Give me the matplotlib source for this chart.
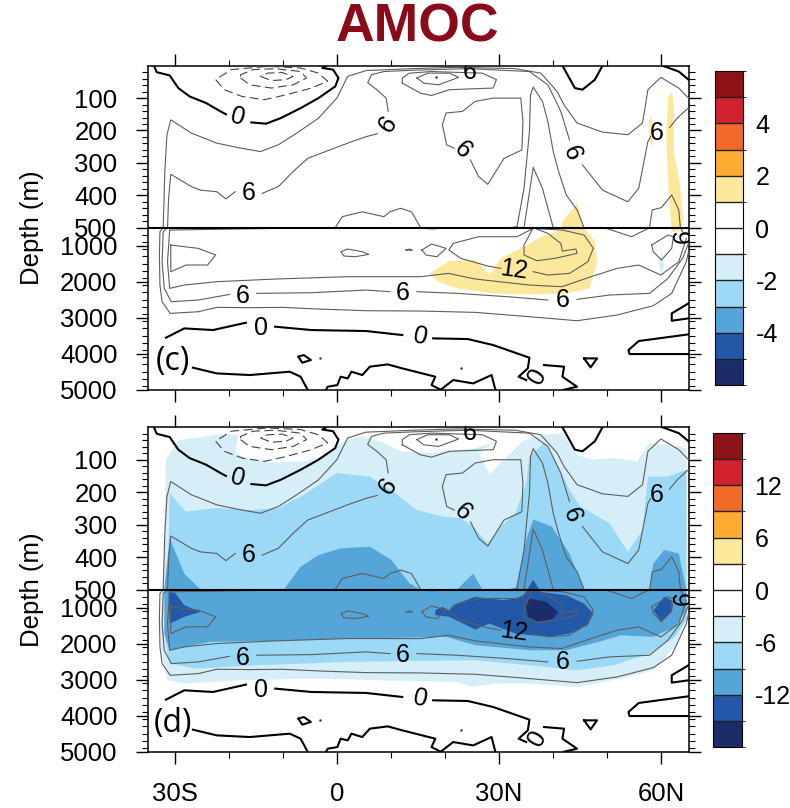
import numpy as np
import matplotlib
matplotlib.use('Agg')
import matplotlib.pyplot as plt
from matplotlib.colors import ListedColormap, BoundaryNorm
from matplotlib.cm import ScalarMappable

plt.rcParams['font.family'] = ['Liberation Sans', 'DejaVu Sans']

# contours, (lat, depth in m)
zero_lines = [
    [(-33.8, 0), (-33.3, 20), (-30.9, 30), (-29.3, 69), (-27.2, 95), (-24.2, 115), (-21.5, 141), (-20.5, 150)],
    [(-15.8, 175), (-13.1, 179), (-10.4, 162), (-6.7, 131), (-3.4, 100), (-0.3, 64), (0.3, 38), (-0.7, 12), (-2.7, 7), (-2, 0)],
    [(41.7, 0), (44, 69), (45.4, 74), (47.7, 43), (49.1, 0)],
    [(60.2, 0), (63.2, 18), (65, 43)],
    [(-31.6, 3556), (-28.2, 3297), (-22.9, 3343), (-16.8, 3139)],
    [(-11.4, 3250), (-4.7, 3343), (5.4, 3370), (12.1, 3482)],
    [(17.8, 3574), (24.2, 3593), (28.9, 3760), (35.6, 4111), (35.3, 4408), (33.6, 4639), (35, 4732)],
    [(38.3, 4315), (42, 4361), (41.7, 4639), (44.4, 4917), (42, 5000)],
    [(-26.6, 4389), (-22.2, 4547), (-16.1, 4593), (-8.7, 4500), (-6.7, 4639), (-5.4, 5000)],
    [(-2, 5000), (-1.7, 4917), (0.1, 4871), (0.7, 4639), (2, 4686), (2.7, 4500), (4.7, 4593), (6.1, 4361),
     (9.4, 4297), (12.1, 4408), (18.2, 4639), (17.5, 4871), (19.2, 5000)],
    [(19.2, 5000), (21.5, 4732), (25.2, 4825), (28.6, 4593), (29.3, 5000)],
    [(-7.1, 4084), (-6.1, 4037), (-4.8, 4176), (-6.4, 4250), (-7.1, 4084)],
    [(45.7, 4130), (48.1, 4130), (46.9, 4380), (45.7, 4130)],
    [(65, 2602), (61.9, 2880), (61.9, 3084), (65, 3019)],
    [(65, 3463), (55.8, 3648), (53.9, 3899), (54.1, 4010), (65, 4010)],
]
dashed_lines = [
    [(-22.4, 43), (-20.8, 74), (-17.5, 95), (-13.4, 105), (-9.4, 90), (-4.7, 69), (-1.7, 48), (-3.4, 23),
     (-6.7, 7), (-12.8, 2), (-19.5, 12), (-22.4, 43)],
    [(-17.8, 38), (-16.1, 59), (-12.1, 69), (-8.1, 59), (-5.6, 38), (-6.7, 18), (-11.4, 9), (-15.5, 12),
     (-17.8, 28), (-17.8, 38)],
    [(-14.1, 33), (-12.1, 46), (-9.4, 43), (-8.1, 33), (-10.1, 21), (-12.8, 23), (-14.1, 33)],
]
thin_lines = [
    # 3
    [(65, 100), (63.2, 69), (59.9, 36), (57.5, 74), (56.5, 177), (53.8, 213), (49.1, 205), (44.4, 177), (42, 121),
     (40.7, 79), (37.7, 23), (33, 9), (22.2, 5), (14.1, 9), (5.4, 15), (2, 33), (0, 100), (-3.4, 162), (-7.4, 208),
     (-10.8, 244), (-14.1, 265), (-18.2, 253), (-22.2, 239), (-26.9, 208), (-30.7, 167), (-31.4, 213), (-31.8, 327),
     (-32.1, 500), (-32.7, 611), (-32.8, 1259), (-32.7, 2093), (-32.3, 2556), (-30.8, 2880), (-25.6, 2834),
     (-22.2, 2713), (-16.1, 2722), (-10.1, 2713), (-3.4, 2759), (5.4, 2806), (15.5, 2815), (25.6, 2852), (35.6, 2972),
     (44.4, 3084), (51.8, 2926), (58.5, 2667), (61.9, 2324), (64.6, 1445), (65, 1167)],
    # 6
    [(7.5, 210), (5.4, 219), (2, 239), (-1.3, 260), (-5.4, 286), (-8.1, 327), (-10.8, 373), (-13.8, 394)],
    [(-18.8, 389), (-20.5, 411), (-22.2, 389), (-25.2, 384), (-26.9, 373), (-30.7, 335), (-31.1, 409), (-31.3, 500),
     (-32.1, 611), (-32.3, 1445), (-31.9, 2185), (-30.6, 2556), (-25.6, 2509), (-22.2, 2417), (-19.8, 2352)],
    [(-14.8, 2324), (-4.7, 2306), (5.4, 2232), (9.8, 2278)],
    [(14.8, 2278), (22.2, 2324), (31.6, 2417), (39, 2509)],
    [(44.4, 2491), (50.4, 2370), (57.8, 2324), (61.2, 1908), (63.9, 1352), (65, 935)],
    [(9.5, 141), (9.1, 100), (7.4, 74), (5.7, 53), (6.4, 28), (8.7, 18), (14.1, 14), (24.2, 9), (35.6, 18), (39, 59),
     (41.4, 141), (43, 229)],
    [(45.4, 306), (49.1, 384), (53.8, 420), (55.8, 378), (57.5, 234), (58, 219)],
    [(61.5, 191), (62.9, 162), (64.6, 136), (65, 131)],
    [(24.7, 291), (26.2, 342), (27.9, 366), (30.9, 286), (34.2, 260), (34.4, 172), (34, 100), (28.9, 100), (25.6, 110),
     (23.2, 141), (20.2, 146), (19.5, 182), (20.3, 244), (21.7, 255)],
    # 9
    [(33.3, 497), (34.6, 378), (35.6, 203), (35.8, 90), (36.3, 66), (38, 110), (39, 172), (40, 265), (41, 327),
     (42.4, 399), (44.4, 445), (45.7, 500), (49.8, 519), (54.5, 750), (57.8, 500), (58.3, 445), (60, 438), (61.9, 399),
     (63.2, 445), (63.5, 500), (63.9, 611)],
    [(-30.9, 565), (-31.3, 1445), (-30.9, 2185), (-28.2, 2093), (-22.2, 2000), (-11.4, 1926), (2, 1861), (15.5, 1861),
     (20.6, 1769), (25.6, 1926), (35.6, 2093), (41.6, 2139), (47, 1861), (51.8, 1630), (55.8, 1537), (59.9, 1815),
     (63.2, 1445), (64.6, 796)],
    [(-30.9, 565), (-11.4, 519), (-0.3, 500), (1, 466), (4.7, 451), (8.7, 466), (9.8, 451), (11.8, 440), (13.8, 451),
     (15.5, 500), (17.5, 537), (20.8, 500), (31.9, 500), (33.3, 497)],
    [(34.6, 500), (36.3, 314), (38, 378), (40, 500)],
    # 12
    [(36.3, 1722), (39, 1815), (43, 1769), (46.4, 1445), (47.4, 1074), (45.7, 704), (41.7, 565), (36.3, 519),
     (33.3, 750), (26.2, 750), (21.5, 935), (20.7, 1120), (22.9, 1352), (27.9, 1565), (30.3, 1630)],
    # 15
    [(36.3, 500), (34.6, 982), (34.6, 1259), (37, 1417), (40.3, 1352), (44.4, 1213), (44.2, 1093), (41.7, 1148),
     (41.4, 935), (39, 657), (36.3, 500)],
    # small closed ones
    [(-30.7, 982), (-25.6, 1074), (-22.4, 1259), (-23.9, 1537), (-27.9, 1537), (-30.7, 1722), (-30.7, 982)],
    [(0.8, 1167), (2, 1093), (4.7, 1167), (5.9, 1241), (3.4, 1306), (1.3, 1287), (0.8, 1167)],
    [(12.8, 1120), (13.5, 1093), (14, 1130), (12.8, 1120)],
    [(15.7, 1120), (17.5, 954), (20.2, 1074), (18.5, 1306), (16.5, 1259), (15.7, 1120)],
    [(58.2, 982), (61.2, 704), (62.2, 750), (61.9, 1074), (60, 1398), (58.5, 1167), (58.2, 982)],
    [(12.1, 54), (15.5, 85), (17.5, 92), (20.8, 74), (28.9, 69), (29.5, 43), (26.9, 23), (17.5, 18), (13.4, 23),
     (12.1, 38), (12.1, 54)],
    [(14.8, 38), (16.1, 54), (18.8, 59), (22.5, 36), (20.8, 23), (16.8, 23), (14.8, 38)],
]
dots_lat = [-3.2, 22.9, 18.3]
dots_depth = [4130, 4389, 36]

label_text = ['0', '6', '6', '6', '6', '6', '6', '6', '12', '6', '6', '6', '0', '0', '0']
label_lat = [-18.4, 9.4, -16.3, 23.2, 43.4, 59.2, 24.5, 64.2, 32.8, -17.4, 12.1, 41.7, -14.1, 15.5, 37]
label_depth = [157, 182, 394, 260, 270, 208, 18, 730, 1676, 2389, 2324, 2509, 3278, 3528, 4639]
label_rot = [-15, 55, 0, -45, -70, 0, 0, 90, -8, 0, 0, 0, 0, -12, 60]

# shading of (c)
c_yellow = [
    [(17.1, 1769), (20.8, 1426), (25.6, 1398), (28.2, 1796), (30.3, 1352), (34.6, 1028), (37.7, 750), (41.4, 565),
     (41.7, 481), (44.4, 425), (45.7, 500), (47.7, 889), (48.1, 1445), (46.7, 2185), (42.4, 2324), (35.6, 2352),
     (28.9, 2324), (22.2, 2185), (18.8, 2000)],
    [(61.2, 100), (61.9, 79), (62.3, 121), (62.3, 265), (63.5, 378), (64, 481), (63.2, 611), (61.9, 611), (61.3, 378),
     (60.9, 224)],
    [(57.7, 172), (58, 152), (58.6, 193), (58.2, 253), (57.8, 224)],
]
c_lightblue = [[(59.5, 1445), (60, 1167), (60.5, 1537), (60, 1815)]]

# shading of (d)
d_level1 = [[(-32.1, 519), (-31.6, 100), (-29.3, 40), (-22.2, 23), (-18.2, 23), (-18.8, 79), (-16.1, 100), (-11.4, 108),
             (-6.1, 105), (-2, 85), (1.3, 43), (4.7, 28), (8.7, 48), (11.8, 74), (16.8, 79), (25.6, 64), (28.9, 48),
             (26.2, 79), (27.2, 110), (28.2, 146), (29.6, 121), (30.9, 100), (34.3, 43), (37.7, 23), (41.7, 18),
             (44.4, 85), (47.1, 100), (51.1, 95), (55.5, 105), (57.8, 48), (61.2, 54), (64.6, 64), (65, 1167),
             (62.5, 2093), (58.5, 2741), (52.5, 2972), (44.4, 3204), (35.6, 3111), (28.9, 3111), (25.2, 3204),
             (22.2, 3065), (8.7, 3019), (-4.7, 2972), (-18.2, 3019), (-28.2, 3111), (-31.3, 3019), (-32.4, 2278),
             (-32.6, 1352), (-32.3, 519)]]
d_level2 = [[(-31.3, 519), (-30.9, 203), (-27.9, 260), (-22.2, 249), (-16.1, 255), (-10.8, 249), (-6.1, 208), (0, 141),
             (6.1, 152), (10.8, 203), (14.8, 255), (19.5, 275), (22.9, 280), (25.2, 306), (27.9, 358), (30.3, 306),
             (33, 265), (35, 172), (35.6, 90), (38.3, 48), (40.3, 100), (43, 193), (45, 244), (50.4, 296), (53.8, 384),
             (56.5, 317), (57.5, 152), (61.2, 152), (64.6, 131), (64.6, 1352), (62.5, 1815), (57.8, 2278), (51.1, 2602),
             (44.4, 2741), (35.6, 2602), (25.6, 2463), (14.1, 2482), (2, 2509), (-14.8, 2602), (-26.2, 2695),
             (-30.9, 2556), (-31.9, 1722), (-31.6, 611)]]
d_level3 = [[(-31.9, 500), (-30.9, 342), (-28.2, 451), (-25.2, 500), (-9.8, 500), (-6.7, 430), (-3.4, 394), (0.7, 373),
             (6.1, 368), (10.1, 409), (13.4, 481), (15.5, 500), (22.2, 500), (25.2, 451), (26.9, 500), (33, 500),
             (35, 347), (36.3, 284), (39.7, 306), (43, 389), (45.7, 500), (57.8, 500), (58.5, 420), (60.5, 378),
             (63.2, 389), (64.6, 500), (64.6, 1074), (62.5, 1537), (58.5, 1815), (52.5, 1769), (48.4, 1954),
             (42.4, 2185), (35.6, 2185), (25.6, 2046), (20.2, 1815), (2, 1861), (-11.4, 1926), (-23.5, 1954),
             (-30.9, 2185), (-31.9, 1722)]]
d_level4 = [
    [(-31.1, 565), (-29.9, 593), (-28.2, 935), (-25.2, 1120), (-28.2, 1259), (-30.9, 1445)],
    [(18.2, 1074), (19.5, 982), (20.8, 1074), (22.2, 889), (25.6, 704), (30.9, 796), (34.3, 704), (36.3, 470),
     (37.7, 565), (42.4, 657), (45.7, 889), (47.4, 1167), (46.4, 1491), (43, 1722), (39, 1815), (33, 1722), (28.2, 1445),
     (25.6, 1611), (20.8, 1259), (18.2, 1213)],
    [(58.5, 1074), (60.5, 704), (61.9, 796), (61.9, 1120), (60, 1398)],
]
d_level5 = [[(35, 982), (35.6, 750), (38.7, 843), (40.9, 1120), (40, 1306), (37.3, 1398), (35.3, 1259)]]

bar_colors = ['#1B2C68', '#2258A7', '#56A5D9', '#9CD9F6', '#D6EEF8', '#FFFFFF',
              '#FFFFFF', '#FCE99B', '#FDAC33', '#F26A2A', '#D2212F', '#8E1318']
c_levels = np.arange(-6, 7, 1)
d_levels = np.arange(-18, 19, 3)
c_ticks = [-4, -2, 0, 2, 4]
d_ticks = [-12, -6, 0, 6, 12]
x_ticks = [-30, 0, 30, 60]
x_labels = ['30S', '0', '30N', '60N']


def depth_fwd(d):
    return np.interp(d, [0, 500, 5000], [0, 1, 2])


def depth_inv(v):
    return np.interp(v, [0, 1, 2], [0, 500, 5000])


W, H = 790, 808


def px_axes(left, top, right, bottom):
    return fig.add_axes([left / W, 1 - bottom / H, (right - left) / W, (bottom - top) / H])


def fill_all(ax, polys, color):
    for p in polys:
        lat, depth = zip(*p)
        ax.fill(lat, depth, color=color, lw=0, zorder=1)


def draw_panel(ax, fills, tag, xlabels=False):
    for polys, color in fills:
        fill_all(ax, polys, color)
    for t in thin_lines:
        lat, depth = zip(*t)
        ax.plot(lat, depth, color='#5e5e5e', lw=0.8, zorder=3)
    for t in zero_lines:
        lat, depth = zip(*t)
        ax.plot(lat, depth, color='black', lw=1.5, zorder=3)
    for t in dashed_lines:
        lat, depth = zip(*t)
        ax.plot(lat, depth, color='#444444', lw=0.8, dashes=(8, 4), zorder=3)
    ax.plot(dots_lat, dots_depth, ls='none', marker='.', ms=1.5, color='#333333', zorder=3)
    for s, x, y, r in zip(label_text, label_lat, label_depth, label_rot):
        ax.text(x, y, s, rotation=r, fontsize=18, ha='center', va='center', zorder=4, clip_on=True)
    ax.axhline(500, color='black', lw=1.5, zorder=5)
    ax.set_yscale('function', functions=(depth_fwd, depth_inv))
    ax.set_xlim(-35, 65)
    ax.set_ylim(5000, 0)
    ax.set_xticks(x_ticks)
    ax.set_xticks(np.arange(-20, 61, 10), minor=True)
    ax.set_xticklabels(x_labels if xlabels else [])
    ax.set_yticks([100, 200, 300, 400, 500, 1000, 2000, 3000, 4000, 5000])
    ax.set_yticks(list(range(20, 500, 20)) + list(range(700, 5000, 200)), minor=True)
    ax.set_yticklabels(['100', '200', '300', '400', '500', '1000', '2000', '3000', '4000', '5000'])
    ax.tick_params(which='major', length=8.6, width=1.0, labelsize=18.5, top=True, right=True, direction='out', pad=13)
    ax.tick_params(axis='x', which='major', pad=13)
    ax.tick_params(which='minor', length=4.3, width=0.8, top=True, right=True, direction='out')
    for lab in ax.get_yticklabels():
        lab.set_verticalalignment('center_baseline')
    for s in ax.spines.values():
        s.set_linewidth(1.1)
    ax.set_ylabel('Depth (m)', fontsize=18.5)
    ax.yaxis.set_label_coords(-0.192, 0.5)
    ax.text(-30.3, 4222, tag, fontsize=23, family=['Open Sans', 'DejaVu Sans'], ha='center', va='center', zorder=6)


def draw_bar(cax, levels, ticks):
    norm = BoundaryNorm(levels, len(bar_colors))
    sm = ScalarMappable(norm=norm, cmap=ListedColormap(bar_colors))
    cb = fig.colorbar(sm, cax=cax, ticks=ticks, drawedges=True, spacing='uniform')
    cb.dividers.set_color('#222222')
    cb.dividers.set_linewidth(1)
    cb.outline.set_linewidth(0.8)
    cb.ax.tick_params(length=0, labelsize=18, pad=9)
    cb.ax.set_yticklabels([str(t) for t in ticks])


fig = plt.figure(figsize=(W / 100, H / 100), dpi=100)

ax_c = px_axes(147.5, 65.7, 688.5, 389.7)
draw_panel(ax_c, [(c_yellow, '#FCE89B'), (c_lightblue, '#D6EEF8')], '(c)')

ax_d = px_axes(147.5, 427.3, 688.5, 751.7)
draw_panel(ax_d, [(d_level1, '#D6EEF8'), (d_level2, '#9CD9F6'), (d_level3, '#56A5D9'),
                  (d_level4, '#2258A7'), (d_level5, '#1B2C68')], '(d)', xlabels=True)

draw_bar(px_axes(715, 71, 743, 385), c_levels, c_ticks)
draw_bar(px_axes(713, 433, 742, 747), d_levels, d_ticks)

fig.text(417 / W, 1 - 28 / H, 'AMOC', fontsize=38.5, fontweight='bold', color='#8B0A1A', ha='center', va='center')

fig.savefig('out.png', dpi=100)
